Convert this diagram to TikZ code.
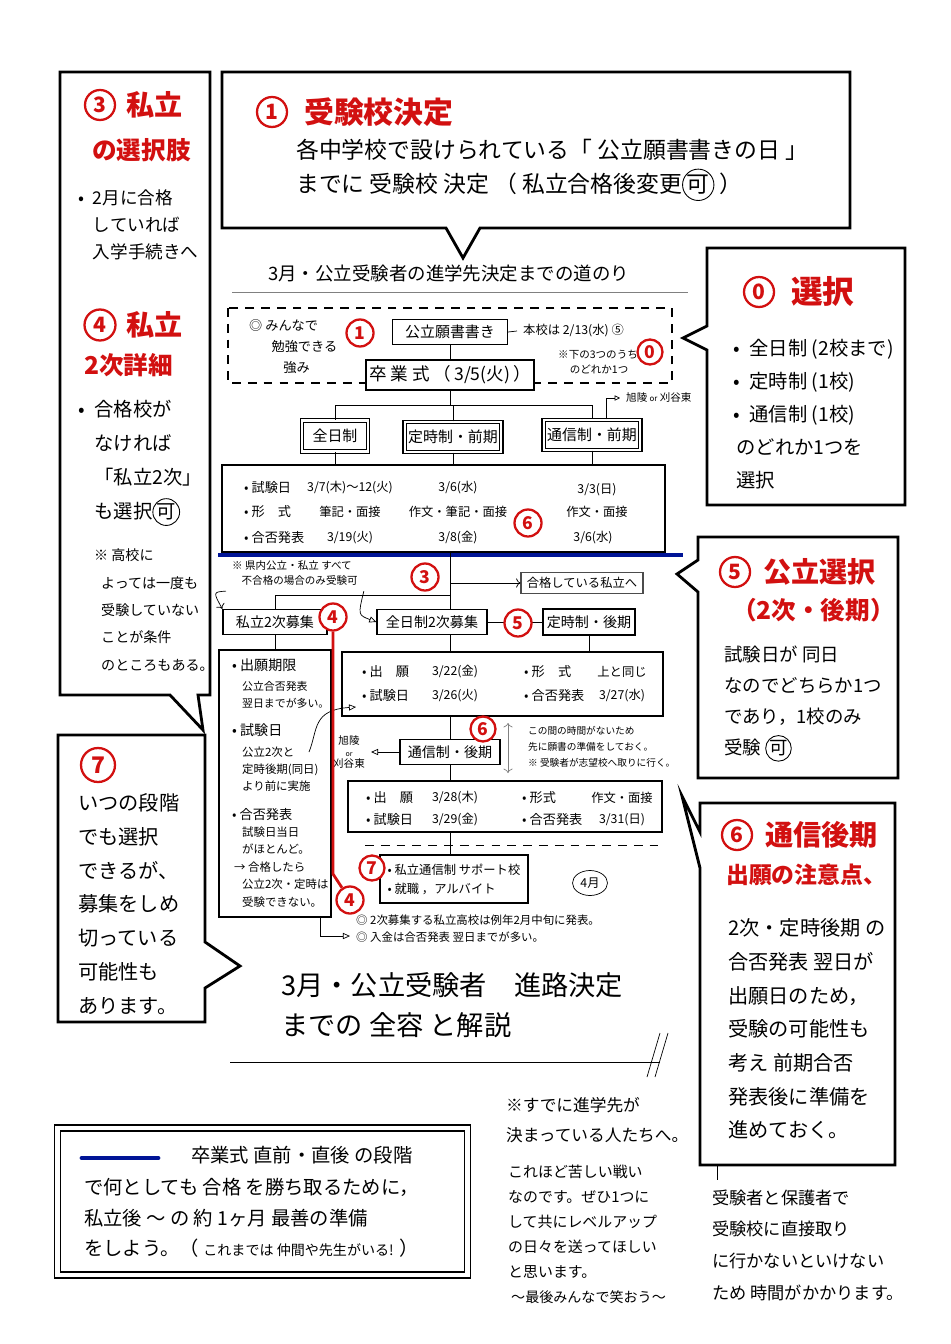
\documentclass[tikz,border=0pt]{standalone}
\usepackage{fontspec}
\setmainfont{Noto Sans CJK JP}
\usetikzlibrary{arrows.meta,shapes.geometric}
\definecolor{hred}{RGB}{210,16,16}
\definecolor{hblue}{RGB}{0,20,150}
\newcommand{\fsz}[2]{\fontsize{#1}{#2}\selectfont}
\newcommand{\bt}{•\hspace{0.5em}}
\newcommand{\ind}{\hphantom{\bt}}
\newcommand{\maru}[1]{\tikz[baseline=(mr.base)]\node[draw,circle,anchor=base,inner sep=0.3pt,line width=0.5pt,minimum width=0pt,minimum height=0pt,text=black](mr){#1};}
\begin{document}
\begin{tikzpicture}[x=0.02cm,y=-0.02cm,
    callout/.style={draw,line width=1.6pt,line join=miter},
    fbox/.style={draw,fill=white,line width=0.8pt,inner sep=2pt,font=\fsz{8}{10}},
    dbox/.style={draw,fill=white,double,double distance=1.2pt,line width=0.7pt,inner sep=2pt,font=\fsz{8.5}{10}},
    redno/.style={circle,draw=hred,line width=1.3pt,text=hred,fill=white,inner sep=0pt,minimum size=0.54cm,font=\bfseries\fsz{10}{10}},
    head/.style={anchor=west,text=hred,font=\bfseries\fsz{17}{22}},
    body/.style={anchor=west,align=left},
    lbl/.style={anchor=west,font=\fsz{7.5}{9}},
    cell/.style={font=\fsz{7}{9}},
    opentip/.style={-{Triangle[open,length=4pt,width=3.5pt]}}]
    \fill[white] (0,0) rectangle (950,1344);
    \useasboundingbox (0,0) rectangle (950,1344);

    % 吹き出し ①
    \draw[callout] (222,72) -- (850,72) -- (850,228) -- (480,228) -- (463,258) -- (446,228) -- (222,228) -- cycle;
    \node[redno,minimum size=0.6cm,font=\bfseries\fsz{12}{12}] (n1h) at (272,112) {1};
    \node[head] (h1) at (298,112) {受験校決定};
    \node[body,font=\fsz{13}{19.5}] (t1) at (290,170) {各中学校で設けられている「 公立願書書きの日 」\\までに 受験校 決定 （ 私立合格後変更\maru{可} ）};

    % 吹き出し ③④
    \draw[callout] (60,72) -- (210,72) -- (210,695) -- (198,695) -- (203,730) -- (170,695) -- (60,695) -- cycle;
    \node[redno,minimum size=0.6cm,font=\bfseries\fsz{12}{12}] (n3h) at (100,105) {3};
    \node[head,font=\bfseries\fsz{16}{20}] (h3) at (120,105) {私立};
    \node[head,font=\bfseries\fsz{14}{18}] (h3b) at (86,150) {の選択肢};
    \node[body,font=\fsz{10}{15.4}] (t3) at (72,225) {\bt 2月に合格\\\ind していれば\\\ind 入学手続きへ};
    \node[redno,minimum size=0.62cm,font=\bfseries\fsz{12}{12}] (n4h) at (100,325) {4};
    \node[head,font=\bfseries\fsz{16}{20}] (h4) at (120,325) {私立};
    \node[head,font=\bfseries\fsz{14}{18}] (h4b) at (78,365) {2次詳細};
    \node[body,font=\fsz{11}{19.4}] (t4) at (72,463) {\bt 合格校が\\\ind なければ\\\ind「私立2次」\\\ind も選択\maru{可}};
    \node[body,font=\fsz{8}{15.6}] (t4b) at (88,610) {※ 高校に\\\hspace{0.5em}よっては一度も\\\hspace{0.5em}受験していない\\\hspace{0.5em}ことが条件\\\hspace{0.5em}のところもある。};

    % 吹き出し ⓪
    \draw[callout] (707,248) -- (905,248) -- (905,505) -- (707,505) -- (707,350) -- (683,338) -- (707,326) -- cycle;
    \node[redno,minimum size=0.6cm,font=\bfseries\fsz{12}{12}] (n0h) at (759,292) {0};
    \node[head,font=\bfseries\fsz{18}{22}] (h0) at (785,292) {選択};
    \node[body,font=\fsz{11}{18.8}] (t0) at (727,414) {\bt 全日制 (2校まで)\\\bt 定時制 (1校)\\\bt 通信制 (1校)\\\,のどれか1つを\\\,選択};

    % 吹き出し ⑤
    \draw[callout] (698,537) -- (898,537) -- (898,778) -- (698,778) -- (698,592) -- (677,574) -- (698,560) -- cycle;
    \node[redno,minimum size=0.6cm,font=\bfseries\fsz{12}{12}] (n5h) at (735,572) {5};
    \node[head,font=\bfseries\fsz{16}{20}] (h5) at (757,572) {公立選択};
    \node[head,font=\bfseries\fsz{14}{18}] (h5b) at (726,610) {（2次・後期）};
    \node[body,font=\fsz{10.5}{17.6}] (t5) at (718,704) {試験日が 同日\\なのでどちらか1つ\\であり，1校のみ\\受験 \maru{可}};

    % 吹き出し ⑥
    \draw[callout] (700,803) -- (895,803) -- (895,1165) -- (700,1165) -- (700,868) -- (682,796) -- (700,832) -- cycle;
    \node[redno,minimum size=0.6cm,font=\bfseries\fsz{12}{12}] (n6h) at (737,835) {6};
    \node[head,font=\bfseries\fsz{16}{20}] (h6) at (759,835) {通信後期};
    \node[head,font=\bfseries\fsz{13}{18}] (h6b) at (720,875) {出願の注意点、};
    \node[body,font=\fsz{11.5}{19.2}] (t6) at (722,1029) {2次・定時後期 の\\合否発表 翌日が\\出願日のため，\\受験の可能性も\\考え 前期合否\\発表後に準備を\\進めておく。};
    \draw (717,1165) -- (717,1180);
    \node[body,font=\fsz{9.8}{18}] (t6b) at (706,1245) {受験者と保護者で\\受験校に直接取り\\に行かないといけない\\ため 時間がかかります。};

    % 吹き出し ⑦
    \draw[callout] (58,735) -- (205,735) -- (205,942) -- (240,966) -- (205,988) -- (205,1022) -- (58,1022) -- cycle;
    \node[redno,minimum size=0.68cm,font=\bfseries\fsz{13}{13}] (n7h) at (98,765) {7};
    \node[body,font=\fsz{11.5}{19.2}] (t7) at (72,904) {いつの段階\\でも選択\\できるが、\\募集をしめ\\切っている\\可能性も\\あります。};

    % 下のメッセージ
    \node[draw,double,double distance=2.5pt,line width=1pt,minimum width=8.2cm,minimum height=2.95cm] (msg) at (262.5,1201.5) {};
    \draw[hblue,line width=2.8pt,line cap=round] (82,1158) -- (158,1158);
    \node[body,font=\fsz{11}{17.4}] (msg1) at (185,1155) {卒業式 直前・直後 の段階};
    \node[body,font=\fsz{11}{17.4}] (msg2) at (78,1218) {で何としても 合格 を勝ち取るために，\\私立後 〜 の 約 1ヶ月 最善の準備\\をしよう。（ {\fsz{8}{10}これまでは 仲間や先生がいる!} ）};
    \node[body,font=\fsz{9.5}{17}] (memo1) at (500,1120) {※すでに進学先が\\決まっている人たちへ。};
    \node[body,font=\fsz{8.5}{14.2}] (memo2) at (502,1222) {これほど苦しい戦い\\なのです。ぜひ1つに\\して共にレベルアップ\\の日々を送ってほしい\\と思います。};
    \node[body,font=\fsz{8}{10}] (memo3) at (505,1297) {〜最後みんなで笑おう〜};

    % タイトル
    \node[body,font=\fsz{15.5}{22.8}] (ttl) at (275,1005) {3月・公立受験者\quad 進路決定\\までの 全容 と解説};
    \draw (230,1062) -- (660,1062);
    \draw (647,1077) -- (660,1033);
    \draw (655,1077) -- (668,1033);

    % 道のり
    \node[body,font=\fsz{10.5}{12}] (route) at (262,273) {3月・公立受験者の進学先決定までの道のり};
    \draw[gray,line width=0.5pt] (232,292) -- (688,292);
    \draw[dash pattern=on 5pt off 4pt,line width=0.6pt] (228,308) rectangle (672,383);
    \node[body,font=\fsz{7.5}{12}] (minna) at (243,347) {◎ みんなで\\\hspace{1.7em}勉強できる\\\hspace{2.6em}強み};
    \node[fbox,minimum width=2.3cm,minimum height=0.5cm,font=\fsz{8.5}{10}] (gansho) at (450,332) {公立願書書き};
    \node[body,font=\fsz{7}{9}] (honkou) at (517,331) {本校は 2/13(水) ⑤};
    \draw (gansho.east) -- (honkou.west);
    \node[body,font=\fsz{6}{9}] (shita) at (552,362) {※下の3つのうち\\\hspace{1.1em}のどれか1つ};
    \node[fbox,minimum width=3.36cm,minimum height=0.6cm,font=\fsz{10}{12}] (sotsu) at (450,375) {卒 業 式 （\,3/5(火)\,）};
    \draw (gansho) -- (sotsu);

    \coordinate (sp) at (450,405);
    \node[dbox,minimum width=1.32cm,minimum height=0.62cm] (zen) at (335,436) {全日制};
    \node[dbox,minimum width=1.86cm,minimum height=0.6cm] (tei) at (453,437) {定時制・前期};
    \node[dbox,minimum width=1.86cm,minimum height=0.6cm] (tsu) at (592,435) {通信制・前期};
    \draw (sotsu.south) -- (sp);
    \draw (zen.north) -- (zen.north |- sp) -- (tsu.north |- sp) -- (tsu.north);
    \draw (tei.north) -- (tei.north |- sp);
    \node[body,font=\fsz{6}{7}] (kyoku1) at (620,398) {旭陵 {\fsz{4.5}{5}or} 刈谷東};
    \draw[-{Triangle[open,length=3pt,width=3pt]}] ([xshift=8pt]tsu.north) |- (kyoku1.west);

    \node[fbox,minimum width=8.86cm,minimum height=1.74cm] (kekka1) at (443.5,508.5) {};
    \draw (zen.south) -- (zen.south |- kekka1.north);
    \draw (tei.south) -- (tei.south |- kekka1.north);
    \draw (tsu.south) -- (tsu.south |- kekka1.north);
    \node[lbl] (k1a) at (238,488) {• 試験日};
    \node[lbl] (k1b) at (238,512) {• 形\quad 式};
    \node[lbl] (k1c) at (238,538) {• 合否発表};
    \node[cell] (k1a1) at (350,488) {3/7(木)〜12(火)};
    \node[cell] (k1b1) at (350,512) {筆記・面接};
    \node[cell] (k1c1) at (350,538) {3/19(火)};
    \node[cell] (k1a2) at (458,488) {3/6(水)};
    \node[cell] (k1b2) at (458,512) {作文・筆記・面接};
    \node[cell] (k1c2) at (458,538) {3/8(金)};
    \node[cell] (k1a3) at (597,490) {3/3(日)};
    \node[cell] (k1b3) at (597,512) {作文・面接};
    \node[cell] (k1c3) at (593,538) {3/6(水)};

    % 卒業式の前後
    \draw[hblue,line width=2.4pt] (218,555) -- (683,555);
    \coordinate (sp2) at (450,595);
    \draw (kekka1.south -| sp) -- (sp2);
    \node[body,font=\fsz{6}{8}] (kennai) at (226,573) {※ 県内公立・私立 すべて\\\hspace{0.9em}不合格の場合のみ受験可};
    \node[fbox,draw=black!70,line width=0.6pt,minimum width=2.44cm,minimum height=0.42cm,font=\fsz{7}{9}] (goukaku) at (582,583) {合格している私立へ};
    \draw[->] (goukaku.west -| sp) -- (goukaku.west);

    \node[fbox,minimum width=2.08cm,minimum height=0.5cm] (shi2) at (275,622) {私立2次募集};
    \node[fbox,minimum width=2.2cm,minimum height=0.5cm] (zen2) at (432,622) {全日制2次募集};
    \node[fbox,minimum width=1.84cm,minimum height=0.52cm] (tei2) at (589,622) {定時制・後期};
    \draw (shi2.north) |- (sp2) -- (sp2 |- zen2.north);
    \draw (zen2.east) -- (tei2.west);
    \draw[opentip] (kennai.south east) .. controls (358,615) .. (zen2.west);
    \draw[->] (kennai.south west) .. controls (213,592) .. (shi2.north west);

    % 私立2次
    \node[fbox,minimum width=2.24cm,minimum height=5.34cm] (hidari) at (275,783.5) {};
    \draw (shi2.south) -- (hidari.north);
    \node[lbl,font=\fsz{8}{10}] (ha) at (226,665) {• 出願期限};
    \node[body,font=\fsz{6.2}{9.7}] (ha2) at (236,695) {公立合否発表\\翌日までが多い。};
    \node[lbl,font=\fsz{8}{10}] (hb) at (226,730) {• 試験日};
    \node[body,font=\fsz{6.5}{9.7}] (hb2) at (236,769) {公立2次と\\定時後期(同日)\\より前に実施};
    \node[lbl,font=\fsz{7.5}{10}] (hc) at (226,815) {• 合否発表};
    \node[body,font=\fsz{6.5}{9.9}] (hc2) at (228,867) {\hspace{0.7em}試験日当日\\\hspace{0.7em}がほとんど。\\→ 合格したら\\\hspace{0.7em}公立2次・定時は\\\hspace{0.7em}受験できない。};

    % 公立2次・後期
    \node[fbox,minimum width=6.42cm,minimum height=1.28cm] (kekka2) at (502.5,684) {};
    \draw (sp2 |- zen2.south) -- (sp2 |- kekka2.north);
    \draw (tei2.south) -- (tei2.south |- kekka2.north);
    \node[lbl] (k2a) at (356,672) {• 出\quad 願};
    \node[lbl] (k2b) at (356,696) {• 試験日};
    \node[cell] (k2a1) at (455,672) {3/22(金)};
    \node[cell] (k2b1) at (455,696) {3/26(火)};
    \node[lbl] (k2c) at (518,672) {• 形\quad 式};
    \node[lbl] (k2d) at (518,696) {• 合否発表};
    \node[cell] (k2c1) at (622,672) {上と同じ};
    \node[cell] (k2d1) at (622,696) {3/27(水)};
    \coordinate (ya1) at (309,752);
    \coordinate (ya1e) at (356,707);
    \draw[opentip] (ya1) .. controls (318,730) and (312,710) .. (ya1e);

    % 通信制・後期
    \node[fbox,minimum width=2cm,minimum height=0.5cm] (tsu2) at (450,752) {通信制・後期};
    \draw (kekka2.south -| sp) -- (tsu2.north);
    \node[align=center,font=\fsz{6}{6.5}] (kyoku2) at (349,752) {旭陵\\{\fsz{4}{4}or}\\刈谷東};
    \draw[opentip] (tsu2.west) -- (kyoku2.east);
    \coordinate (ma1) at (508,723);
    \coordinate (ma2) at (508,773);
    \draw[<->,gray] (ma1) -- (ma2);
    \node[body,font=\fsz{5.5}{9}] (aida) at (522,747) {この間の時間がないため\\先に願書の準備をしておく。\\※ 受験者が志望校へ取りに行く。};

    \node[fbox,minimum width=6.28cm,minimum height=1.02cm] (kekka3) at (505,806.5) {};
    \draw (tsu2.south) -- (tsu2.south |- kekka3.north);
    \node[lbl] (k3a) at (360,798) {• 出\quad 願};
    \node[lbl] (k3b) at (360,820) {• 試験日};
    \node[cell] (k3a1) at (455,798) {3/28(木)};
    \node[cell] (k3b1) at (455,820) {3/29(金)};
    \node[lbl] (k3c) at (516,798) {• 形式};
    \node[lbl] (k3d) at (516,820) {• 合否発表};
    \node[cell] (k3c1) at (622,798) {作文・面接};
    \node[cell] (k3d1) at (622,820) {3/31(日)};
    \draw[dash pattern=on 5pt off 4pt] (365,845) -- (660,845);

    % 4月
    \node[fbox,minimum width=2.96cm,minimum height=0.96cm,align=left,font=\fsz{7}{10.8}] (sonota) at (454,879) {• 私立通信制 サポート校\\• 就職\ ，アルバイト};
    \draw (kekka3.south -| sp) -- (sonota.north -| sp);
    \node[draw,ellipse,inner sep=1pt,minimum width=0.7cm,minimum height=0.5cm,font=\fsz{7}{8}] (shigatsu) at (590,883) {4月};
    \node[body,font=\fsz{6.5}{9.7}] (chui) at (350,929) {◎ 2次募集する私立高校は例年2月中旬に発表。\\◎ 入金は合否発表 翌日までが多い。};
    \draw[opentip] ([xshift=25.6pt]hidari.south) |- ([yshift=-4pt]chui.west);

    % 赤い番号
    \node[redno] (n1) at (360,333) {1};
    \node[redno,minimum size=0.5cm] (n0) at (650,352) {0};
    \node[redno] (n6a) at (528,523) {6};
    \node[redno] (n3) at (425,577) {3};
    \node[redno] (n5) at (518,623) {5};
    \node[redno,minimum size=0.5cm] (n6b) at (483,729) {6};
    \node[redno,minimum size=0.5cm] (n7) at (372,868) {7};
    \node[redno] (n4a) at (333,617) {4};
    \node[redno] (n4b) at (350,900) {4};
    \coordinate (r4) at (333,874);
    \draw[hred,line width=1.6pt] (n4a) -- (r4) -- (n4b);
\end{tikzpicture}
\end{document}
